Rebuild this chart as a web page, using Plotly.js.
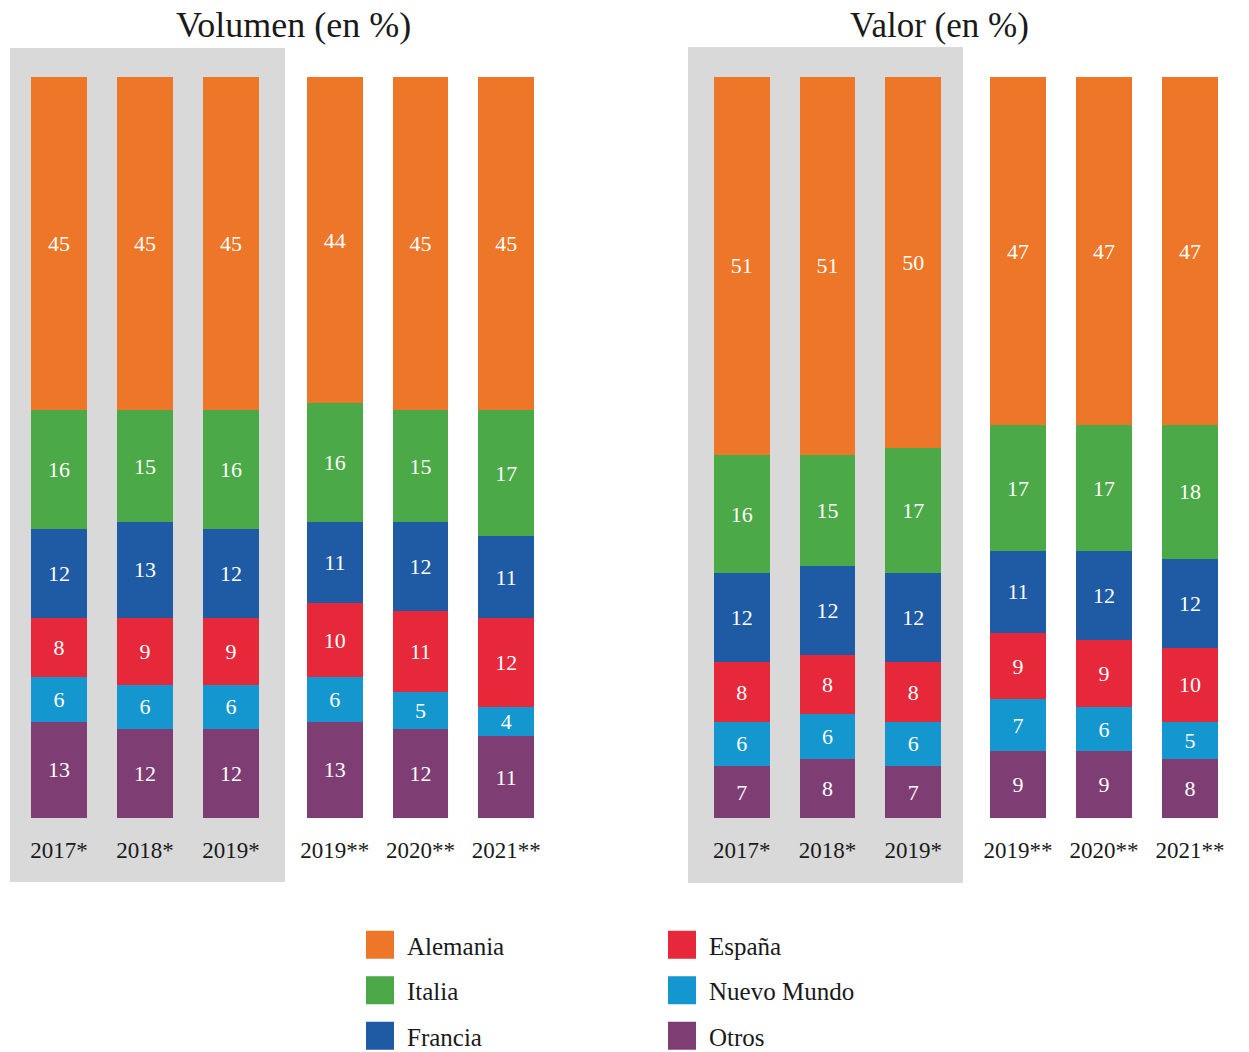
<!DOCTYPE html>
<html><head><meta charset="utf-8">
<script src="https://cdn.plot.ly/plotly-3.0.1.min.js"></script>
<style>html,body{margin:0;padding:0;background:#fff;overflow:hidden;} #chart{width:1249px;height:1052px;}</style>
</head><body><div id="chart"></div>
<script>
// Categories
const catsEst = ['2017*', '2018*', '2019*'];
const catsProv = ['2019**', '2020**', '2021**'];
// Series (stack order bottom -> top)
const countries = ['Otros', 'Nuevo Mundo', 'España', 'Francia', 'Italia', 'Alemania'];
const colors = ['#7E3E73', '#1497CF', '#E6283A', '#1F5AA5', '#4BA947', '#EE7628'];
// Volumen (en %), 2017*,2018*,2019*,2019**,2020**,2021**
const volOtros = [13, 12, 12, 13, 12, 11];
const volNuevoMundo = [6, 6, 6, 6, 5, 4];
const volEspana = [8, 9, 9, 10, 11, 12];
const volFrancia = [12, 13, 12, 11, 12, 11];
const volItalia = [16, 15, 16, 16, 15, 17];
const volAlemania = [45, 45, 45, 44, 45, 45];
// Valor (en %)
const valOtros = [7, 8, 7, 9, 9, 8];
const valNuevoMundo = [6, 6, 6, 7, 6, 5];
const valEspana = [8, 8, 8, 9, 9, 10];
const valFrancia = [12, 12, 12, 11, 12, 12];
const valItalia = [16, 15, 17, 17, 17, 18];
const valAlemania = [51, 51, 50, 47, 47, 47];

const volSeries = [volOtros, volNuevoMundo, volEspana, volFrancia, volItalia, volAlemania];
const valSeries = [valOtros, valNuevoMundo, valEspana, valFrancia, valItalia, valAlemania];
const legendRank = {'Alemania': 1, 'Italia': 2, 'Francia': 3, 'España': 4, 'Nuevo Mundo': 5, 'Otros': 6};
const legendOf = {'Alemania': 'legend', 'Italia': 'legend', 'Francia': 'legend', 'España': 'legend2', 'Nuevo Mundo': 'legend2', 'Otros': 'legend2'};

const SERIF = 'Liberation Serif, Times New Roman, serif';
const traces = [];
const panels = [
  {series: volSeries, axes: ['x', 'x2']},
  {series: valSeries, axes: ['x3', 'x4']}
];
panels.forEach((p, pi) => {
  countries.forEach((c, ci) => {
    const vals = p.series[ci];
    [[catsEst, vals.slice(0, 3), p.axes[0]], [catsProv, vals.slice(3, 6), p.axes[1]]].forEach((g, gi) => {
      traces.push({
        type: 'bar', name: c, x: g[0], y: g[1], xaxis: g[2], yaxis: 'y',
        marker: {color: colors[ci], line: {width: 0}},
        texttemplate: '%{y}', textposition: 'inside', insidetextanchor: 'middle', textangle: 0,
        textfont: {family: SERIF, size: 22, color: '#ffffff'},
        constraintext: 'none',
        hoverinfo: 'name+y',
        legendgroup: c, legend: legendOf[c], legendrank: legendRank[c],
        showlegend: (pi === 0 && gi === 0)
      });
    });
  });
});

const H = 1052, W = 1249;
const yDom = [1 - 818 / H, 1 - 77 / H];
function xax(d0, d1) {
  return {domain: [d0 / W, d1 / W], type: 'category', anchor: 'y', showgrid: false, zeroline: false,
    showline: false, ticks: '', ticklabelstandoff: 16,
    tickfont: {family: SERIF, size: 23, color: '#1a1a1a'}, fixedrange: true};
}
const LEG_SHIFT = 8;
const legendBase = {orientation: 'v', traceorder: 'grouped', tracegroupgap: 10, itemwidth: 44,
  font: {family: SERIF, size: 25, color: '#1a1a1a'}, bgcolor: 'rgba(0,0,0,0)', borderwidth: 0,
  xanchor: 'left', yanchor: 'top', itemclick: false, itemdoubleclick: false};

const layout = {
  width: W, height: H,
  margin: {l: 0, r: 0, t: 0, b: 0},
  paper_bgcolor: '#ffffff', plot_bgcolor: 'rgba(0,0,0,0)',
  barmode: 'stack', bargap: 0.35,
  showlegend: true,
  xaxis: xax(16, 274),
  xaxis2: xax(292, 549),
  xaxis3: xax(699, 956),
  xaxis4: xax(975, 1233),
  yaxis: {domain: yDom, range: [0, 100], visible: false, fixedrange: true},
  legend: Object.assign({}, legendBase, {x: 353 / W, y: 1 - 914 / H}),
  legend2: Object.assign({}, legendBase, {x: 655 / W, y: 1 - 914 / H}),
  shapes: [
    {type: 'rect', xref: 'paper', yref: 'paper', x0: 10 / W, x1: 285 / W, y0: 1 - 882 / H, y1: 1 - 48 / H,
      fillcolor: '#D9D9D9', line: {width: 0}, layer: 'below'},
    {type: 'rect', xref: 'paper', yref: 'paper', x0: 688 / W, x1: 963 / W, y0: 1 - 883 / H, y1: 1 - 47 / H,
      fillcolor: '#D9D9D9', line: {width: 0}, layer: 'below'}
  ],
  annotations: [
    {text: 'Volumen (en %)', xref: 'paper', yref: 'paper', x: 293 / W, y: 1 - 25 / H, showarrow: false,
      xanchor: 'center', yanchor: 'middle', font: {family: SERIF, size: 36, color: '#1a1a1a'}},
    {text: 'Valor (en %)', xref: 'paper', yref: 'paper', x: 939 / W, y: 1 - 25 / H, showarrow: false,
      xanchor: 'center', yanchor: 'middle', font: {family: SERIF, size: 35, color: '#1a1a1a'}}
  ]
};

Plotly.newPlot('chart', traces, layout, {displayModeBar: false, staticPlot: true}).then(() => {
  document.querySelectorAll('.legendpoints path').forEach(p => {
    p.setAttribute('d', 'M14,14H-14V-14H14Z');
  });
  document.querySelectorAll('g.legend, g.legend2').forEach(g => {
    const t = g.getAttribute('transform') || '';
    const m = t.match(/translate\(\s*([-\d.]+)[ ,]+([-\d.]+)\s*\)/);
    if (m) g.setAttribute('transform', 'translate(' + m[1] + ',' + (parseFloat(m[2]) + LEG_SHIFT) + ')');
  });
});
</script>
</body></html>
